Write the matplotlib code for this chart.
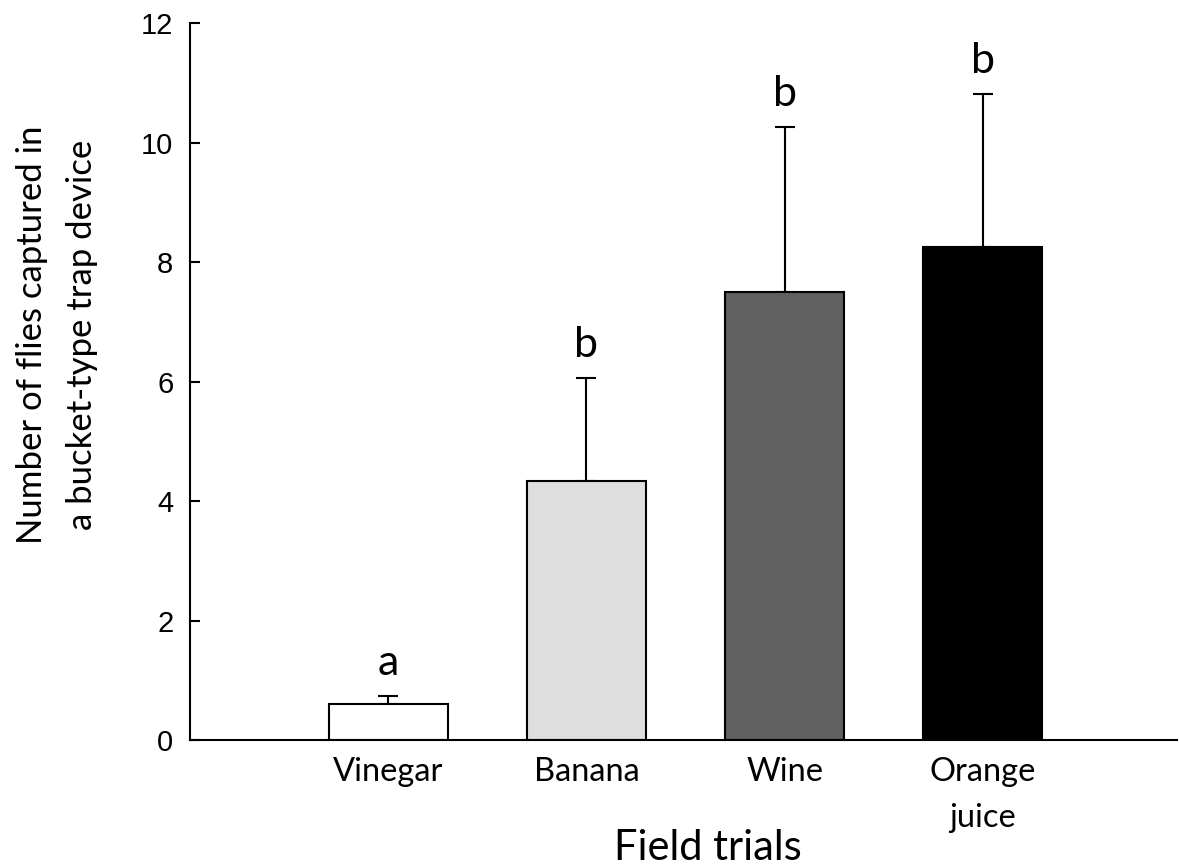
import numpy as np
import matplotlib
matplotlib.use("Agg")
import matplotlib.pyplot as plt

# data
categorias = ["Vinegar", "Banana", "Wine", "Orange\njuice"]
medias = [0.60, 4.33, 7.50, 8.25]
errores = [0.14, 1.73, 2.76, 2.56]
letras = ["a", "b", "b", "b"]
colores = ["#ffffff", "#dedede", "#606060", "#000000"]

fig = plt.figure(figsize=(11.79, 8.67), dpi=100)
ax = fig.add_axes([190/1179, 1 - 740/867, (1177 - 190)/1179, (740 - 23)/867])

x = np.arange(len(categorias))
ax.bar(x, medias, width=0.6, color=colores, edgecolor="black", linewidth=1.5, zorder=2)
ax.errorbar(x, medias, yerr=[np.zeros(len(errores)), errores], fmt="none",
            ecolor="black", elinewidth=1.5, capsize=7.5, capthick=1.5, zorder=1)

# letras de significancia
for xi, m, e, l in zip(x, medias, errores, letras):
    ax.annotate(l, (xi, m + e), xytext=(0, 15), textcoords="offset points",
                ha="center", va="baseline", fontsize=31, family="Lato")

ax.set_xlim(-1.0, 3.98)
ax.set_ylim(0, 12)
ax.set_yticks([0, 2, 4, 6, 8, 10, 12])
ax.set_xticks(x)
ax.set_xticklabels(categorias, fontsize=23.5, family="Lato", linespacing=1.7)
for t in ax.get_yticklabels():
    t.set_fontsize(21)
    t.set_family("Liberation Sans")

ax.spines["top"].set_visible(False)
ax.spines["right"].set_visible(False)
ax.spines["left"].set_linewidth(1.5)
ax.spines["bottom"].set_linewidth(1.5)
ax.tick_params(axis="y", direction="in", length=7, width=1.5, pad=12)
ax.tick_params(axis="x", length=0, pad=12)

fig.text(57/1179, 1 - 335/867, "Number of flies captured in\na bucket-type trap device",
         rotation=90, ha="center", va="center", multialignment="center",
         fontsize=25, family="Lato", linespacing=1.7)
fig.text(708/1179, 1 - 860/867, "Field trials", ha="center", va="baseline",
         fontsize=30, family="Lato")

fig.savefig("out.png", dpi=100)
